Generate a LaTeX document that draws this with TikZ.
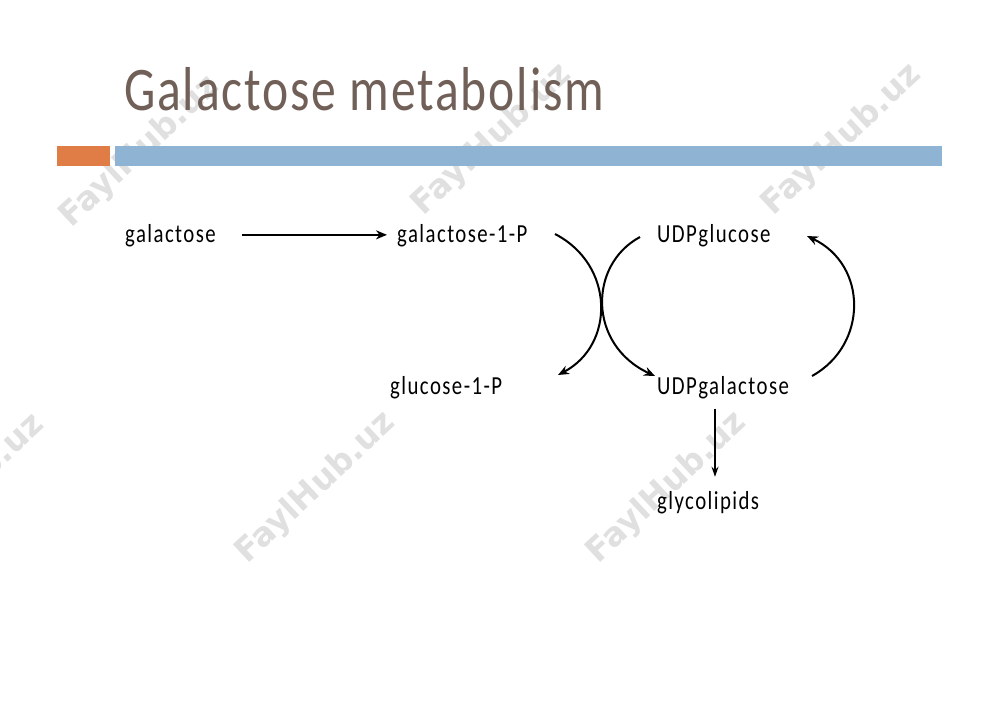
\documentclass[tikz,border=0pt]{standalone}
\usepackage{fontspec}
\usetikzlibrary{arrows.meta}
\newfontfamily\titlefont[FakeStretch=0.8,LetterSpace=3]{Carlito}
\newfontfamily\bodyfont[FakeStretch=0.8,LetterSpace=5.5]{Carlito}
\newfontfamily\wmfont{DejaVu Sans}
\definecolor{titlecol}{RGB}{112,96,88}
\definecolor{barorange}{RGB}{224,125,70}
\definecolor{barblue}{RGB}{143,179,211}
\definecolor{wmgray}{RGB}{224,224,224}
\tikzset{
  lbl/.style={anchor=base west, inner sep=0pt, font=\bodyfont\fontsize{26}{30}\selectfont, text=black},
  wm/.style={rotate=43, inner sep=0pt, font=\wmfont\bfseries\fontsize{33}{36}\selectfont, text=wmgray},
  thick arrow/.style={line width=2pt, -{Stealth[length=11pt,width=9pt]}},
  thin arrow/.style={line width=1.1pt, -{Stealth[length=10pt,width=7pt]}}
}
\begin{document}
\begin{tikzpicture}[x=1pt,y=-1pt]
\useasboundingbox (0,0) rectangle (1000,707);
\fill[white] (0,0) rectangle (1000,707);
% watermarks
\node[wm] (w1) at (140,152) {FaylHub.uz};
\node[wm] (w2) at (492,140) {FaylHub.uz};
\node[wm] (w3) at (842,140) {FaylHub.uz};
\node[wm] (w4) at (-35,490) {FaylHub.uz};
\node[wm] (w5) at (316,488) {FaylHub.uz};
\node[wm] (w6) at (667,488) {FaylHub.uz};
% title and bars
\node[anchor=base west, inner sep=0pt, text=titlecol, font=\titlefont\fontsize{62}{70}\selectfont] (title) at (124,110) {Galactose metabolism};
\fill[barorange] (57,146) rectangle (110,166);
\fill[barblue] (115,146) rectangle (942,166);
% labels
\node[lbl] (gal) at (125,242) {galactose};
\node[lbl] (gal1p) at (397,242) {galactose-1-P};
\node[lbl] (udpglc) at (657,242) {UDPglucose};
\node[lbl] (glc1p) at (390,394) {glucose-1-P};
\node[lbl] (udpgal) at (657,394) {UDPgalactose};
\node[lbl] (glyco) at (657,509) {glycolipids};
% connector end points
\coordinate (a1s) at (555,234);
\coordinate (a1e) at (558,375);
\coordinate (a2s) at (640,237);
\coordinate (a2e) at (655,376);
\coordinate (a3s) at (812,376);
\coordinate (a3e) at (807,236);
\path (udpgal.south west) ++(58,10) coordinate (v1);
\path (v1 |- glyco.north) ++(0,-14) coordinate (v2);
% connectors
\draw[thick arrow, shorten <=26pt, shorten >=10pt] ([yshift=5pt]gal.mid east) -- ([yshift=5pt]gal1p.mid west);
\draw[thick arrow] (a1s) .. controls (615,265) and (615,345) .. (a1e);
\draw[thick arrow] (a2s) .. controls (588,265) and (588,345) .. (a2e);
\draw[thick arrow] (a3s) .. controls (868,345) and (868,265) .. (a3e);
\draw[thin arrow] (v1) -- (v2);
\end{tikzpicture}
\end{document}
